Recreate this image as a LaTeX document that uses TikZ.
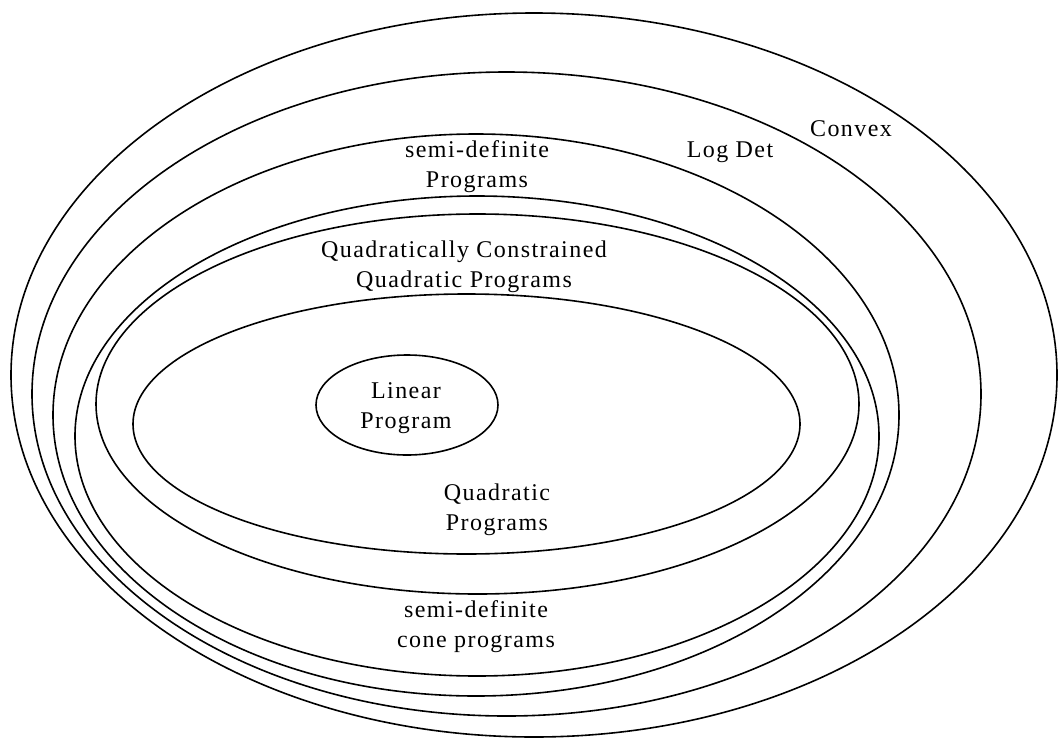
\documentclass[tikz,border=0pt]{standalone}
\usepackage{fontspec}
\newfontfamily\labfont[LetterSpace=6]{Liberation Serif}
\tikzset{
  setline/.style={draw=black, line width=1.6pt},
  lab/.style={font=\labfont\fontsize{24}{30}\selectfont, align=center, anchor=base, inner sep=0pt}
}
\begin{document}
\begin{tikzpicture}[x=1pt, y=-1pt]
\useasboundingbox (0,0) rectangle (1062,739);
% nested sets
\draw[setline] (534,375) ellipse [x radius=523, y radius=362];
\draw[setline] (506.5,394) ellipse [x radius=474.5, y radius=322];
\draw[setline] (476,415) ellipse [x radius=423, y radius=281];
\draw[setline] (477,436) ellipse [x radius=402, y radius=240];
\draw[setline] (477.5,404) ellipse [x radius=381.5, y radius=190];
\draw[setline] (466.5,424) ellipse [x radius=333.5, y radius=130];
\draw[setline] (407,405) ellipse [x radius=91, y radius=50];
% labels
\node[lab] (convex) at (851,136) {Convex};
\node[lab] (logdet) at (730,157) {Log Det};
\node[lab] (sdp) at (477,187) {semi-definite\\Programs};
\node[lab] (qcqp) at (464,287) {Quadratically Constrained\\Quadratic Programs};
\node[lab] (lp) at (406,428) {Linear\\Program};
\node[lab] (qp) at (497,530) {Quadratic\\Programs};
\node[lab] (sdcp) at (476,647) {semi-definite\\cone programs};
\end{tikzpicture}
\end{document}
